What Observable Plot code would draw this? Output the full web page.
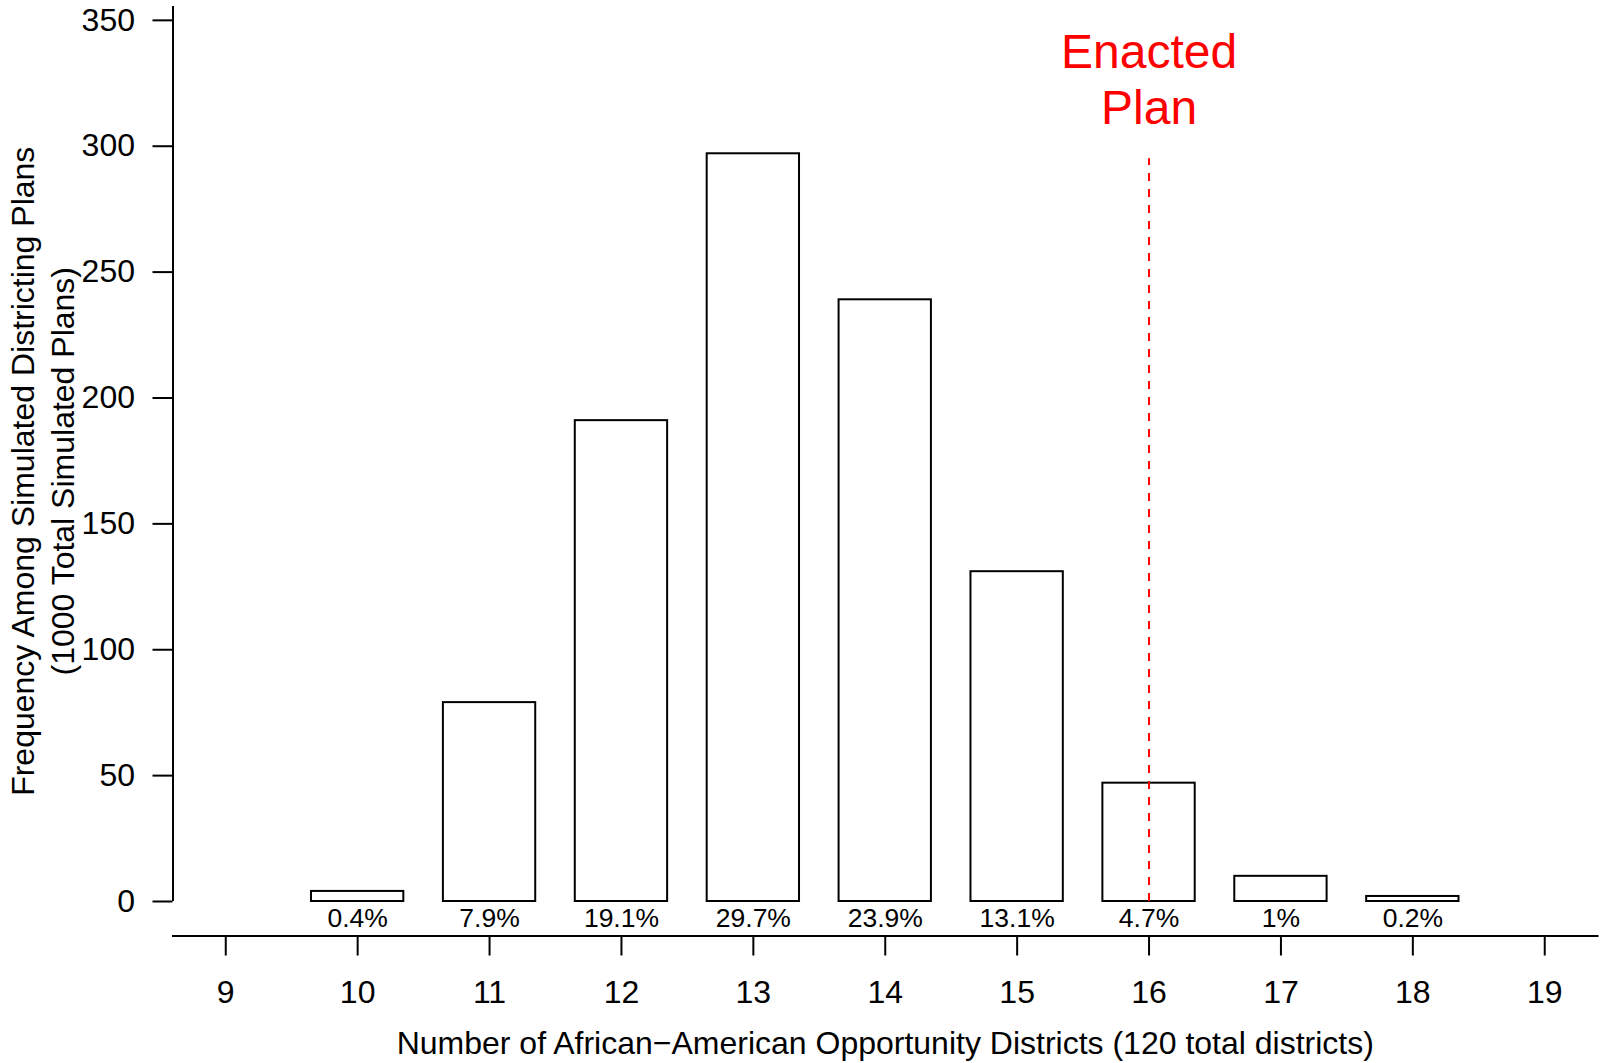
<!DOCTYPE html>
<html>
<head>
<meta charset="utf-8">
<script src="https://cdn.jsdelivr.net/npm/d3@7"></script>
<script src="https://cdn.jsdelivr.net/npm/@observablehq/plot@0.6"></script>
<style>
  html, body { margin: 0; padding: 0; background: white; }
</style>
</head>
<body>
<div id="chart"></div>
<script>
// ---- data ----
const districts = [10, 11, 12, 13, 14, 15, 16, 17, 18];
const frequencies = [4, 79, 191, 297, 239, 131, 47, 10, 2];
const percentLabels = ["0.4%", "7.9%", "19.1%", "29.7%", "23.9%", "13.1%", "4.7%", "1%", "0.2%"];
const xTicks = [9, 10, 11, 12, 13, 14, 15, 16, 17, 18, 19];
const yTicks = [0, 50, 100, 150, 200, 250, 300, 350];
const xDomain = [8.6, 19.4];
const yDomain = [0, 355.5];
const barWidth = 0.7;
const enactedValue = 16;
const enactedLineTop = 295;
const enactedLabel = "Enacted\nPlan";
const xTitle = "Number of African\u2212American Opportunity Districts (120 total districts)";
const yTitle = "Frequency Among Simulated Districting Plans\n(1000 Total Simulated Plans)";

const bars = districts.map((k, i) => ({k, freq: frequencies[i], pct: percentLabels[i]}));

const W = 1602, H = 1063;
const mLeft = 172.5, mRight = 5, mTop = 6, mBottom = 127.5;

const chart = Plot.plot({
  width: W,
  height: H,
  marginLeft: mLeft,
  marginRight: mRight,
  marginTop: mTop,
  marginBottom: mBottom,
  style: {fontFamily: "'Liberation Sans', Arial, Helvetica, sans-serif", fontSize: "32px", background: "white", color: "black"},
  x: {type: "linear", domain: xDomain, ticks: xTicks},
  y: {type: "linear", domain: yDomain, range: [901, mTop], ticks: yTicks},
  marks: [
    Plot.rectY(bars, {x1: d => d.k - barWidth / 2, x2: d => d.k + barWidth / 2, y1: 0, y2: "freq", fill: "white", stroke: "black", strokeWidth: 2}),
    Plot.text(bars, {x: "k", y: () => 0, text: "pct", lineAnchor: "bottom", dy: 25, fontSize: 26.5, fill: "black"}),
    Plot.ruleX([enactedValue], {y1: () => 0, y2: () => enactedLineTop, stroke: "red", strokeWidth: 2, strokeDasharray: "8,8"}),
    Plot.text([enactedLabel], {x: () => enactedValue, frameAnchor: "top", lineAnchor: "bottom", dy: 117.5, fontSize: 48, lineHeight: 1.167, fill: "red"}),
    Plot.ruleX([xDomain[0]], {y1: () => yDomain[0], y2: () => yDomain[1], stroke: "black", strokeWidth: 2}),
    Plot.frame({anchor: "bottom", stroke: "black", strokeWidth: 2}),
    Plot.axisY({ticks: yTicks, tickSize: 20, tickPadding: 18, fontSize: 32, label: null, strokeWidth: 2, tickFormat: d => String(d)}),
    Plot.axisX({ticks: xTicks, tickSize: 20, tickPadding: 24.7, fontSize: 32, label: null, strokeWidth: 2, tickFormat: d => String(d)}),
    Plot.text([yTitle], {frameAnchor: "left", textAnchor: "middle", rotate: -90, dx: 40.8 - mLeft, lineHeight: 1.25, fontSize: 32, fill: "black"}),
    Plot.text([xTitle], {frameAnchor: "bottom", lineAnchor: "bottom", dy: 1053 - (H - mBottom), fontSize: 32, fill: "black"})
  ]
});
document.getElementById("chart").appendChild(chart);
</script>
</body>
</html>
